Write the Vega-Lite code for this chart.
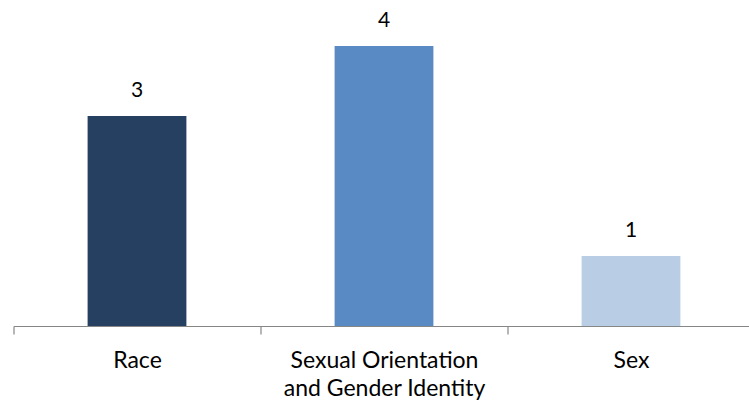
{
  "$schema": "https://vega.github.io/schema/vega-lite/v6.json",
  "width": 741,
  "height": 280,
  "autosize": {"type": "none"},
  "padding": {"left": 13.5, "top": 46, "right": 0, "bottom": 78},
  "background": "white",
  "config": {"view": {"stroke": null}, "font": "Lato"},
  "data": {"values": [
    {"category": "Race", "count": 3},
    {"category": "Sexual Orientation and Gender Identity", "count": 4},
    {"category": "Sex", "count": 1}
  ]},
  "encoding": {
    "x": {"field": "category", "type": "nominal", "sort": null,
      "scale": {"paddingInner": 0, "paddingOuter": 0},
      "axis": {"title": null, "labelAngle": 0, "tickBand": "extent", "domainColor": "#868686", "tickColor": "#868686", "domainWidth": 1.2, "tickWidth": 1.2, "tickSize": 8,
        "labelFont": "Lato", "labelFontSize": 23, "labelColor": "#000000", "labelPadding": 33, "labelLineHeight": 28, "labelBaseline": "alphabetic", "labelLimit": 0,
        "labelExpr": "datum.label == 'Sexual Orientation and Gender Identity' ? ['Sexual Orientation', 'and Gender Identity'] : datum.label"}},
    "y": {"field": "count", "type": "quantitative", "scale": {"domain": [0, 4], "nice": false}, "axis": null}
  },
  "layer": [
    {"mark": {"type": "bar", "width": {"band": 0.4}},
     "encoding": {"color": {"field": "category", "type": "nominal", "sort": null, "legend": null,
       "scale": {"domain": ["Race", "Sexual Orientation and Gender Identity", "Sex"], "range": ["#264061", "#5A8AC4", "#B9CDE5"]}}}},
    {"mark": {"type": "text", "dy": -19, "baseline": "alphabetic", "fontSize": 21, "font": "Lato", "color": "#000000"},
     "encoding": {"text": {"field": "count", "type": "quantitative"}}}
  ]
}
